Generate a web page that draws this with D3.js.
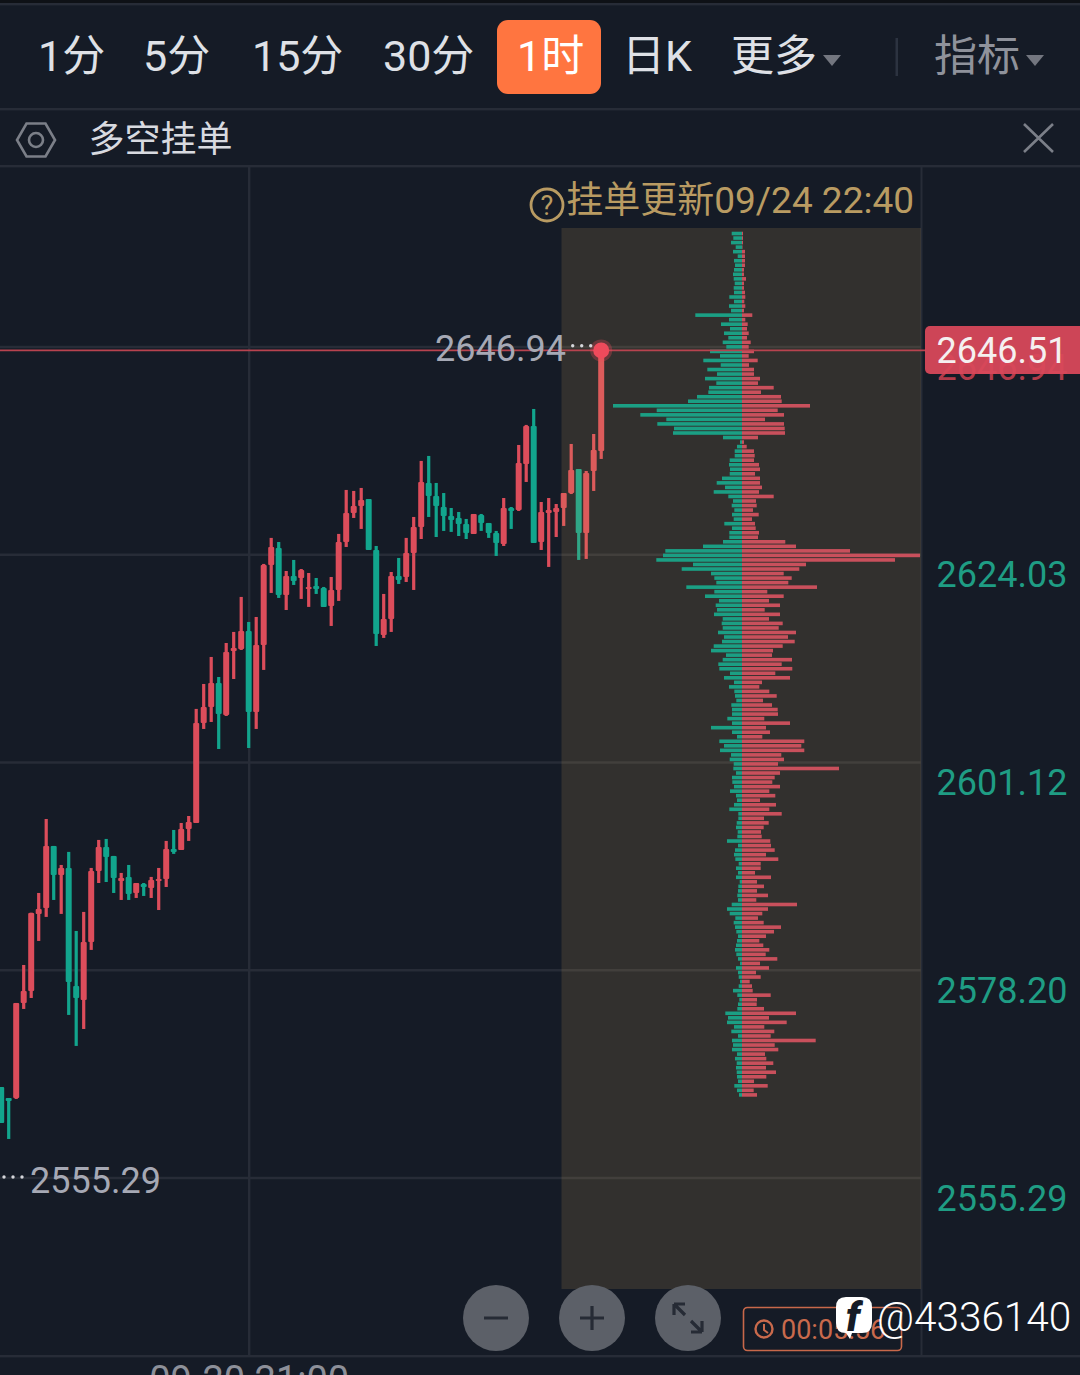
<!DOCTYPE html>
<html>
<head>
<meta charset="utf-8">
<script src="https://cdn.jsdelivr.net/npm/d3@7"></script>
<style>
    html, body { margin: 0; padding: 0; background: #151b26; }
    svg { display: block; }
    text { font-family: Roboto, "Noto Sans CJK SC", sans-serif; }
</style>
</head>
<body>
<script>
// 1h candles, oldest first
const opens = [2565.27, 2564.06, 2564.06, 2574.54, 2575.86, 2584.36, 2585.02, 2591.86, 2588.66, 2589.43,
    2576.41, 2574.87, 2581.27, 2589.10, 2591.75, 2590.76, 2588.00, 2588.44, 2586.67, 2587.66,
    2587.22, 2588.00, 2588.22, 2591.53, 2591.42, 2593.73, 2594.39, 2605.42, 2607.19, 2609.83,
    2606.30, 2613.36, 2613.58, 2615.57, 2606.63, 2614.02, 2622.85, 2624.72, 2619.54, 2621.63,
    2621.41, 2620.20, 2620.53, 2620.31, 2618.33, 2620.09, 2625.38, 2628.58, 2629.35, 2630.12,
    2624.50, 2615.13, 2616.89, 2621.63, 2621.52, 2624.17, 2627.04, 2631.89, 2630.45, 2629.24,
    2628.25, 2628.03, 2627.37, 2626.27, 2628.36, 2627.48, 2626.38, 2625.16, 2629.13, 2628.91,
    2633.98, 2638.18, 2625.38, 2628.58, 2628.69, 2629.13, 2630.78, 2633.43, 2626.38, 2633.21, 2635.42]
const highs = [2565.27, 2564.06, 2574.54, 2578.73, 2584.50, 2586.67, 2594.83, 2591.86, 2589.76, 2591.20,
    2582.48, 2584.58, 2589.43, 2592.52, 2592.63, 2590.76, 2588.88, 2589.76, 2587.77, 2587.77,
    2588.44, 2589.43, 2592.41, 2593.62, 2594.39, 2595.16, 2606.97, 2609.72, 2612.70, 2610.49,
    2614.24, 2615.46, 2619.32, 2616.56, 2617.11, 2622.96, 2625.83, 2625.38, 2622.18, 2623.40,
    2622.40, 2621.96, 2621.41, 2620.42, 2621.52, 2626.27, 2631.12, 2631.01, 2631.34, 2630.12,
    2624.94, 2619.65, 2622.07, 2623.62, 2625.83, 2628.14, 2634.32, 2634.87, 2631.89, 2630.78,
    2629.13, 2628.69, 2627.92, 2628.47, 2628.47, 2627.48, 2626.60, 2630.23, 2629.24, 2636.08,
    2638.29, 2640.05, 2629.79, 2630.23, 2629.57, 2630.78, 2636.19, 2633.43, 2633.21, 2637.29, 2646.51]
const lows = [2561.30, 2559.54, 2563.95, 2573.88, 2575.09, 2581.38, 2584.03, 2585.90, 2584.36, 2573.22,
    2569.80, 2571.67, 2580.39, 2587.77, 2587.88, 2586.67, 2585.90, 2585.90, 2586.12, 2586.34,
    2586.12, 2584.79, 2587.33, 2590.98, 2591.42, 2592.41, 2594.39, 2604.76, 2605.53, 2602.55,
    2606.19, 2610.27, 2613.47, 2602.66, 2604.76, 2611.27, 2619.76, 2619.21, 2617.88, 2620.64,
    2619.10, 2618.22, 2619.65, 2618.22, 2616.12, 2618.88, 2624.83, 2628.03, 2626.82, 2624.50,
    2613.91, 2614.80, 2615.46, 2620.75, 2620.97, 2620.09, 2625.71, 2628.14, 2625.93, 2626.60,
    2626.49, 2626.04, 2625.71, 2626.27, 2626.60, 2625.83, 2623.84, 2624.94, 2626.82, 2628.80,
    2632.00, 2625.27, 2624.50, 2622.63, 2625.93, 2627.15, 2630.67, 2623.40, 2623.51, 2631.01, 2634.54]
const closes = [2561.30, 2563.73, 2574.54, 2575.86, 2584.47, 2584.90, 2591.86, 2588.66, 2589.43, 2576.86,
    2575.09, 2581.27, 2589.10, 2591.75, 2590.65, 2588.33, 2588.33, 2586.56, 2587.77, 2587.33,
    2588.11, 2588.22, 2591.53, 2591.20, 2593.73, 2594.50, 2605.42, 2607.19, 2609.83, 2606.41,
    2613.25, 2613.69, 2615.57, 2606.63, 2614.02, 2622.85, 2624.83, 2619.54, 2621.63, 2621.08,
    2622.29, 2620.42, 2620.20, 2618.22, 2620.09, 2625.38, 2628.58, 2629.35, 2630.01, 2624.50,
    2615.24, 2616.89, 2621.63, 2621.19, 2624.17, 2627.04, 2632.00, 2630.45, 2629.35, 2628.25,
    2627.81, 2627.37, 2626.38, 2628.47, 2627.48, 2626.38, 2625.27, 2629.13, 2628.80, 2634.09,
    2638.18, 2625.27, 2628.69, 2628.91, 2629.13, 2630.78, 2633.32, 2626.38, 2632.99, 2635.53, 2646.51]

// order book depth, one row per price level from the top down (relative size)
const bookLongs = [10.3, 8.7, 11, 6.3, 9, 4.3, 8, 7, 8, 9, 8.3, 7.3, 8.3, 8, 12.7, 8, 13, 11, 46.7, 13,
    21, 12, 18, 13.7, 19.3, 15.7, 32, 22, 38.7, 21.3, 34.7, 25, 37, 25.7, 33, 33.7, 45, 54, 129, 85.3,
    101.7, 75.7, 84.7, 68, 69, 19, 2, 5, 7.3, 7.3, 12.3, 13, 12, 12.3, 20, 25.3, 17, 28.3, 13.7, 9,
    10.3, 7.7, 10, 8.3, 17.7, 10, 12.7, 12.7, 19, 39, 76.7, 79, 85.7, 49, 60.3, 31, 27.7, 25.7, 55.7, 27.7,
    37, 23, 26.3, 25, 28, 19.3, 20.3, 19.3, 24, 18, 20, 28.3, 31, 16, 19.3, 23.7, 22.7, 12, 18, 8,
    13, 7.7, 7, 5.7, 10.7, 10, 10, 14.7, 10, 31, 10, 5, 22.7, 18, 22, 11, 12.3, 8.3, 8.7, 6,
    10, 9.7, 8, 12, 6, 5, 8, 12.7, 3.7, 3.7, 5.3, 6, 4.3, 4.7, 15, 4, 7, 8, 6.7, 3.3,
    6, 4, 6, 2.3, 3.7, 4, 4.7, 4, 10.3, 15, 12.3, 6.7, 8.3, 7, 5.7, 4, 5, 6, 7, 5.7,
    4, 2, 6, 4, 3.3, 2, 3.3, 9, 4.7, 2.7, 4, 4.7, 16.7, 14, 15, 8, 10.7, 4, 10, 9,
    10, 5, 7, 5.3, 6, 5.3, 5, 4, 7.7, 5, 3]
const bookShorts = [1, 1, 1, 0.5, 3, 3, 3, 3, 2, 2, 4, 2, 2, 3, 3.3, 2.3, 3.3, 2, 10.3, 3.3,
    5.7, 5, 6.7, 5, 8.7, 6.7, 12, 6.7, 15.7, 7, 12, 12, 18, 16, 31.7, 19, 39, 39.7, 68, 35.7,
    42, 23, 42, 42.7, 43, 16, 2, 4.7, 12, 12.7, 12, 17, 18, 13, 18, 18, 20, 17, 31.7, 14,
    14.7, 11, 16.7, 10, 13, 13.7, 17, 16, 43.3, 54, 108, 178, 153, 64, 57.3, 41.7, 49.7, 46.3, 75, 25.3,
    41.7, 27, 38, 22.7, 38, 27, 40.7, 36.7, 54, 46, 52.7, 40.7, 31, 30, 50, 39.7, 50.3, 33.3, 48, 20,
    17.3, 27.3, 34.7, 21, 30, 35.7, 36, 22.3, 48, 24, 28, 20.3, 62.3, 59.3, 62.3, 39.3, 42, 36, 97, 38,
    32.7, 30.3, 38, 27.3, 33.3, 18, 34, 27.3, 39.7, 22, 26.7, 21.7, 19, 19.7, 28.3, 29, 32.7, 24, 36.3, 18.7,
    18.7, 13, 29, 15, 22, 15, 26, 14.3, 55, 26, 20.3, 16, 21.7, 39, 32, 24, 17.3, 21.3, 27.3, 23.7,
    35.3, 18, 27, 14, 18.7, 7.7, 10, 10.7, 28.7, 15, 14.7, 22, 54, 27, 44.7, 22.3, 32.3, 28.7, 73.7, 32.7,
    36.3, 23, 24.3, 31.3, 24, 34, 24.3, 12, 25.7, 11.7, 15]
const bookTopPrice = 2659.4
const bookStep = 0.5

const axisPrices = [2646.94, 2624.03, 2601.12, 2578.20, 2555.29]
const lastPrice = 2646.51
const timeTickIndex = [33]
const timeTickLabels = ["09-20 21:00"]

const tabs = ["1分", "5分", "15分", "30分", "1时", "日K", "更多", "指标"]
const tabX = [38, 143, 252, 383, 517, 622, 731, 934]

const width = 1080, height = 1375
const red = "#dc4d5b", green = "#12a58d", gridColor = "#272c37"

const svg = d3.select("body").append("svg").attr("width", width).attr("height", height)
svg.append("rect").attr("width", width).attr("height", height).attr("fill", "#151b26")

const x = d3.scaleLinear().domain([0, 80]).range([1.2, 601.2])
const y = d3.scaleLinear().domain([2555.29, 2646.94]).range([1177.5, 346.5])
const depth = d3.scaleLinear().domain([0, 178]).range([0, 178])
const bookCenter = 742

// grid, both directions come off the axes
svg.append("g")
    .attr("transform", "translate(921,0)")
    .call(d3.axisLeft(y).tickValues(axisPrices).tickSize(921).tickFormat(""))
    .call(g => g.select(".domain").remove())
    .selectAll("line").attr("stroke", gridColor).attr("stroke-width", 2.4)

const timeAxis = svg.append("g")
    .attr("transform", "translate(0,1356)")
    .call(d3.axisBottom(x).tickValues(timeTickIndex).tickSize(-1189).tickPadding(-1)
        .tickFormat((d, i) => timeTickLabels[i]))
timeAxis.select(".domain").remove()
timeAxis.selectAll("line").attr("stroke", gridColor).attr("stroke-width", 2.4)
timeAxis.selectAll("text")
    .attr("y", 37).attr("dy", 0)
    .attr("font-size", 38).attr("fill", "#8d9099")
    .attr("font-family", "Roboto")
svg.append("rect").attr("y", 1355).attr("width", width).attr("height", 2.4).attr("fill", gridColor)
svg.append("rect").attr("x", 920.5).attr("y", 167).attr("width", 2).attr("height", 1188).attr("fill", gridColor)

// candles
const candles = svg.append("g").selectAll("g").data(d3.range(opens.length)).join("g")
    .attr("fill", i => closes[i] >= opens[i] ? red : green)
candles.append("rect")
    .attr("x", i => x(i) - 1.6)
    .attr("width", 3.2)
    .attr("y", i => y(highs[i]))
    .attr("height", i => y(lows[i]) - y(highs[i]))
candles.append("rect")
    .attr("x", i => x(i) - 3)
    .attr("width", 6)
    .attr("rx", 1)
    .attr("y", i => y(Math.max(opens[i], closes[i])))
    .attr("height", i => Math.max(2, Math.abs(y(opens[i]) - y(closes[i]))))

// translucent order book panel sits on top of candles and grid
svg.append("rect")
    .attr("x", 561.5).attr("y", 228).attr("width", 359.5).attr("height", 1061)
    .attr("fill", "#ddae5b").attr("fill-opacity", 0.15)

const rows = svg.append("g").selectAll("g").data(d3.range(bookLongs.length)).join("g")
    .attr("transform", i => `translate(${bookCenter},${y(bookTopPrice - i * bookStep)})`)
rows.append("rect")
    .attr("x", i => -depth(bookLongs[i])).attr("y", -1.8)
    .attr("width", i => depth(bookLongs[i])).attr("height", 3.6)
    .attr("fill", "#1b9f84")
rows.append("rect")
    .attr("x", 0).attr("y", -1.8)
    .attr("width", i => depth(bookShorts[i])).attr("height", 3.6)
    .attr("fill", "#c9505c")

// last price line + dot
svg.append("line")
    .attr("x1", 0).attr("x2", 926)
    .attr("y1", y(lastPrice)).attr("y2", y(lastPrice))
    .attr("stroke", "#b8434f").attr("stroke-width", 1.6)
svg.append("circle").attr("cx", x(80)).attr("cy", y(lastPrice)).attr("r", 11)
    .attr("fill", "#ef4a5b").attr("opacity", 0.3)
svg.append("circle").attr("cx", x(80)).attr("cy", y(lastPrice)).attr("r", 8)
    .attr("fill", "#ef4a5b")

// right price labels, 21px under their gridline
const priceAxis = svg.append("g")
    .attr("transform", "translate(1002,21)")
    .call(d3.axisRight(y).tickValues(axisPrices).tickSize(0).tickPadding(0).tickFormat(d3.format(".2f")))
priceAxis.select(".domain").remove()
priceAxis.selectAll("text")
    .attr("text-anchor", "middle")
    .attr("font-size", 36)
    .attr("font-family", "Roboto")
    .attr("fill", d => d === axisPrices[0] ? "#b23b4a" : "#1f9d84")

svg.append("rect")
    .attr("x", 925).attr("y", 326).attr("width", 160).attr("height", 48).attr("rx", 5)
    .attr("fill", "#d9485a").attr("fill-opacity", 0.94)
svg.append("text")
    .attr("x", 1002).attr("y", y(lastPrice)).attr("dy", "0.36em")
    .attr("text-anchor", "middle").attr("font-size", 36).attr("fill", "#f5f0f0")
    .text(d3.format(".2f")(lastPrice))

// high / low markers
svg.append("text")
    .attr("x", 566).attr("y", y(d3.max(axisPrices)) + 2).attr("dy", "0.36em")
    .attr("text-anchor", "end").attr("font-size", 36).attr("fill", "#a6a9b5")
    .text(d3.format(".2f")(d3.max(axisPrices)))
svg.append("text")
    .attr("x", 30).attr("y", y(d3.min(axisPrices)) + 3).attr("dy", "0.36em")
    .attr("font-size", 36).attr("fill", "#a6a9b5")
    .text(d3.format(".2f")(d3.min(axisPrices)))
const leaderDots = [[572.7, 345.7], [581.7, 345.7], [590.7, 345.7], [4, 1177], [13, 1177], [22, 1177]]
svg.append("g").selectAll("circle").data(leaderDots).join("circle")
    .attr("cx", d => d[0]).attr("cy", d => d[1]).attr("r", 1.7).attr("fill", "#d5d6da")

// top chrome
svg.append("rect").attr("width", width).attr("height", 3).attr("fill", "#0e1116")
svg.append("rect").attr("y", 3).attr("width", width).attr("height", 2.4).attr("fill", gridColor)
svg.append("rect").attr("y", 108).attr("width", width).attr("height", 2.4).attr("fill", gridColor)
svg.append("rect").attr("y", 165).attr("width", width).attr("height", 2.4).attr("fill", gridColor)

svg.append("rect").attr("x", 497).attr("y", 20).attr("width", 104).attr("height", 74).attr("rx", 11).attr("fill", "#ff7540")
svg.append("g").selectAll("text").data(tabs).join("text")
    .attr("x", (d, i) => tabX[i]).attr("y", 71)
    .attr("font-size", 43)
    .attr("fill", (d, i) => i === 4 ? "#fff" : i === 7 ? "#8f929b" : "#dfe1e6")
    .text(d => d)
const caret = [[823, 841], [1026, 1044]]
svg.append("g").selectAll("path").data(caret).join("path")
    .attr("d", d => `M${d[0]},55 L${d[1]},55 L${(d[0] + d[1]) / 2},66 Z`)
    .attr("fill", "#73767f")
svg.append("rect").attr("x", 895.5).attr("y", 38).attr("width", 2.5).attr("height", 38).attr("fill", "#2c3340")

// second bar
const hex = d3.range(6).map(i => [36 + 19 * Math.cos(i * Math.PI / 3), 140 + 19 * Math.sin(i * Math.PI / 3)])
svg.append("path").attr("d", d3.line()(hex) + "Z").attr("fill", "none").attr("stroke", "#7b7f88").attr("stroke-width", 2.6)
svg.append("circle").attr("cx", 36).attr("cy", 140).attr("r", 7).attr("fill", "none").attr("stroke", "#7b7f88").attr("stroke-width", 2.6)
svg.append("text").attr("x", 88.5).attr("y", 152).attr("font-size", 36).attr("fill", "#d8dae0").text("多空挂单")
svg.append("path").attr("d", "M1024,124 L1053,152 M1053,124 L1024,152").attr("stroke", "#7b7f88").attr("stroke-width", 2.6)

// update time
svg.append("circle").attr("cx", 547).attr("cy", 205).attr("r", 16).attr("fill", "none").attr("stroke", "#b99b62").attr("stroke-width", 2.8)
svg.append("text").attr("x", 547).attr("y", 215).attr("text-anchor", "middle").attr("font-size", 27).attr("fill", "#b99b62").text("?")
svg.append("text").attr("x", 914).attr("y", 213).attr("text-anchor", "end").attr("font-size", 37)
    .attr("fill", "#b99b62").text("挂单更新09/24 22:40")

// zoom buttons
svg.append("g").selectAll("circle").data([496, 592, 688]).join("circle")
    .attr("cx", d => d).attr("cy", 1318).attr("r", 33).attr("fill", "#5c6068")
svg.append("path")
    .attr("d", "M484,1318 H508 M580,1318 H604 M592,1306 V1330 M674,1304 L685,1315 M674,1304 V1315 M674,1304 H685 M702,1332 L691,1321 M702,1332 V1321 M702,1332 H691")
    .attr("fill", "none").attr("stroke", "#262b35").attr("stroke-width", 3.2)

// countdown box
svg.append("rect").attr("x", 743.5).attr("y", 1307.5).attr("width", 158).attr("height", 43).attr("rx", 4)
    .attr("fill", "none").attr("stroke", "#c8684a").attr("stroke-width", 1.6)
svg.append("circle").attr("cx", 764).attr("cy", 1329).attr("r", 8.5).attr("fill", "none").attr("stroke", "#c96a4c").attr("stroke-width", 2.4)
svg.append("path").attr("d", "M764,1324 V1330 L768,1333").attr("fill", "none").attr("stroke", "#c96a4c").attr("stroke-width", 2)
svg.append("text").attr("x", 781).attr("y", 1339).attr("font-size", 27).attr("fill", "#c96a4c").text("00:05:56")

// watermark
svg.append("path")
    .attr("d", "M846,1297 H862 Q872,1297 872,1307 V1323 Q872,1333 862,1333 H852 L850,1339 L846,1333 Q836,1333 836,1323 V1307 Q836,1297 846,1297 Z")
    .attr("fill", "#fff")
svg.append("text").attr("x", 853).attr("y", 1331).attr("text-anchor", "middle").attr("font-size", 40)
    .attr("font-weight", 900).attr("font-style", "italic").attr("fill", "#151b26").text("f")
svg.append("text").attr("x", 877).attr("y", 1331).attr("font-size", 40.5).attr("font-weight", 300)
    .attr("fill", "#fff").text("@4336140")
</script>
</body>
</html>
